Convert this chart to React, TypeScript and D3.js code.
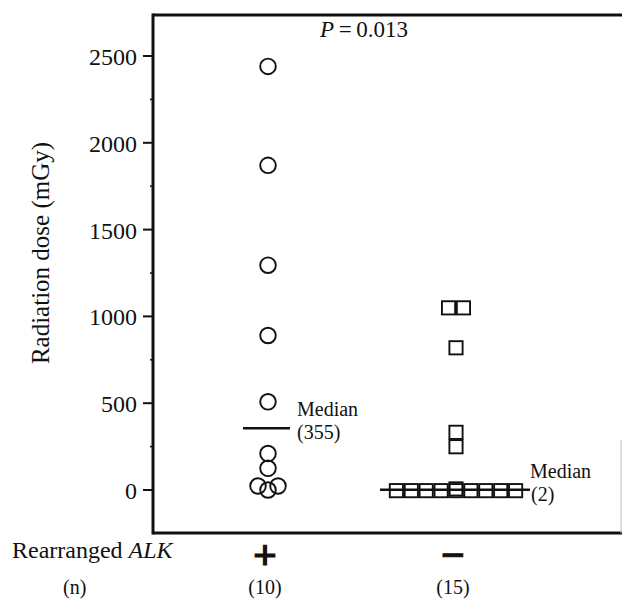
import * as d3 from "d3";
import React from "react";

// categories and their n labels
const groups = ["+", "\u2212"];
const groupN = ["(10)", "(15)"];

// Rearranged ALK positive (circles), radiation dose in mGy
const alkPosDose = [2440, 1870, 1295, 890, 508, 210, 125, 23, 23, 0];
const alkPosSlot = [0, 0, 0, 0, 0, 0, 0, -1, 1, 0];

// Rearranged ALK negative (squares)
const alkNegDose = [1055, 1055, 825, 338, 255, 2, 2, 2, 2, 2, 2, 2, 2, 2, 12];
const alkNegSlot = [-0.5, 0.5, 0, 0, 0, -4, -3, -2, -1, 0, 1, 2, 3, 4, 0];

const medians = [355, 2];
const medianLabels = ["(355)", "(2)"];
const yTickValues = [0, 500, 1000, 1500, 2000, 2500];
const yMinorValues = [250, 750, 1250, 1750, 2250];
const pValue = "0.013";

const W = 622;
const H = 601;
const font = "'Liberation Serif', 'Times New Roman', serif";

export default function App() {
  const left = 153;
  const top = 15;
  const right = 621;
  const bottom = 533;

  const y = d3.scaleLinear().domain([0, 2500]).range([490, 56]);
  const x = d3.scalePoint<string>().domain(groups).range([268, 456]);

  const circleR = 7.8;
  const sq = 13.2;
  const posStep = 10;
  const negStep = 14.9;

  const xPos = x(groups[0])!;
  const xNeg = x(groups[1])!;

  return (
    <svg
      width={W}
      height={H}
      style={{ position: "absolute", left: 0, top: 0, background: "#fff" }}
      fontFamily={font}
    >
      {/* frame */}
      <line x1={left} x2={W} y1={top} y2={top} stroke="#111" strokeWidth={3} />
      <line x1={left} x2={left} y1={top - 1.5} y2={bottom + 1.5} stroke="#111" strokeWidth={3} />
      <line x1={left} x2={W} y1={bottom} y2={bottom} stroke="#111" strokeWidth={3} />
      <line x1={right} x2={right} y1={440} y2={bottom} stroke="#bbb" strokeWidth={1} />

      {/* y axis ticks */}
      {yTickValues.map((v) => (
        <g key={v}>
          <line x1={left - 10} x2={left} y1={y(v)} y2={y(v)} stroke="#111" strokeWidth={2} />
          <text x={137} y={y(v) + 9} textAnchor="end" fontSize={24} fill="#111">
            {v}
          </text>
        </g>
      ))}
      {yMinorValues.map((v) => (
        <line key={v} x1={left - 3} x2={left} y1={y(v)} y2={y(v)} stroke="#111" strokeWidth={1.5} />
      ))}

      <text
        transform={`translate(49,${253}) rotate(-90)`}
        textAnchor="middle"
        fontSize={25}
        fill="#111"
      >
        Radiation dose (mGy)
      </text>

      <text x={320} y={37} fontSize={23} fill="#111">
        <tspan fontStyle="italic">P</tspan>
        <tspan>{"\u2009=\u2009" + pValue}</tspan>
      </text>

      {/* ALK positive circles */}
      {alkPosDose.map((d, i) => (
        <circle
          key={i}
          cx={xPos + alkPosSlot[i] * posStep}
          cy={y(d)}
          r={circleR}
          fill="none"
          stroke="#111"
          strokeWidth={1.9}
        />
      ))}

      {/* ALK negative squares */}
      {alkNegDose.map((d, i) => (
        <rect
          key={i}
          x={xNeg + alkNegSlot[i] * negStep - sq / 2}
          y={y(d) - sq / 2 + 1}
          width={sq}
          height={sq}
          fill="none"
          stroke="#111"
          strokeWidth={1.9}
        />
      ))}

      {/* medians */}
      <line x1={xPos - 25} x2={xPos + 22} y1={y(medians[0])} y2={y(medians[0])} stroke="#111" strokeWidth={2.5} />
      <text x={297} y={416} fontSize={20} fill="#111">
        <tspan x={297}>Median</tspan>
        <tspan x={297} dy={23}>{medianLabels[0]}</tspan>
      </text>

      <line x1={xNeg - 76} x2={xNeg + 74} y1={y(medians[1])} y2={y(medians[1])} stroke="#111" strokeWidth={2.5} />
      <text x={530} y={478} fontSize={20} fill="#111">
        <tspan x={530}>Median</tspan>
        <tspan x={531} dy={23}>{medianLabels[1]}</tspan>
      </text>

      {/* category labels */}
      <text x={12} y={558} fontSize={24} fill="#111">
        Rearranged <tspan fontStyle="italic">ALK</tspan>
      </text>
      {groups.map((g) => (
        <text
          key={g}
          x={x(g)! - 3}
          y={569}
          textAnchor="middle"
          fontSize={42}
          fontWeight="bold"
          stroke="#111"
          strokeWidth={1.2}
          fill="#111"
        >
          {g}
        </text>
      ))}

      <text x={63} y={594} fontSize={20} fill="#111">(n)</text>
      {groups.map((g, i) => (
        <text key={g} x={x(g)! - 3} y={594} textAnchor="middle" fontSize={20} fill="#111">
          {groupN[i]}
        </text>
      ))}
    </svg>
  );
}
